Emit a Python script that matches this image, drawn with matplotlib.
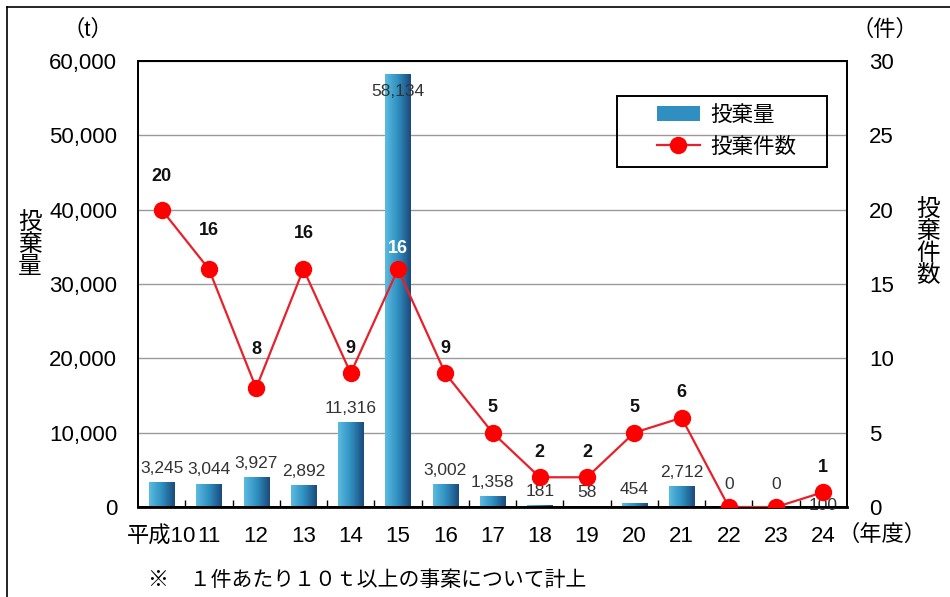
import numpy as np
import matplotlib.pyplot as plt
from matplotlib.colors import LinearSegmentedColormap
from matplotlib.lines import Line2D
from matplotlib.patches import Patch, Rectangle
from matplotlib.ticker import FuncFormatter, MultipleLocator, FixedLocator

plt.rcParams['font.family'] = ['Liberation Sans', 'Noto Sans CJK JP', 'DejaVu Sans']

years = ['平成10', '11', '12', '13', '14', '15', '16', '17', '18', '19',
         '20', '21', '22', '23', '24']
tonnage = [3245, 3044, 3927, 2892, 11316, 58134, 3002, 1358, 181, 58,
           454, 2712, 0, 0, 100]
cases = [20, 16, 8, 16, 9, 16, 9, 5, 2, 2, 5, 6, 0, 0, 1]

x = np.arange(len(years))
bar_w = 0.53

fig = plt.figure(figsize=(9.5, 5.97), dpi=100)
ax = fig.add_axes([138 / 950, 1 - 507 / 597, 709 / 950, 446 / 597])
ax2 = ax.twinx()

# bars with a light-to-dark horizontal gradient
cmap = LinearSegmentedColormap.from_list('bar', ['#5bbbe0', '#2f8fc0', '#1c4a7c'])
grad = np.linspace(0, 1, 64).reshape(1, -1)
for xi, v in zip(x, tonnage):
    if v > 0:
        ax.imshow(grad, cmap=cmap, aspect='auto', zorder=2,
                  extent=(xi - bar_w / 2, xi + bar_w / 2, 0, v))

ax.set_xlim(-0.5, len(years) - 0.5)
ax.set_ylim(0, 60000)
ax.yaxis.set_major_locator(MultipleLocator(10000))
ax.yaxis.set_major_formatter(FuncFormatter(lambda v, p: f'{int(v):,}'))
ax.grid(axis='y', color='#9a9a9a', lw=1, zorder=0)
ax.set_axisbelow(True)

ax.set_xticks(x)
ax.set_xticklabels(years)
ax.xaxis.set_minor_locator(FixedLocator(x[:-1] + 0.5))
ax.tick_params(axis='x', which='major', length=0, pad=14, labelsize=16)
ax.tick_params(axis='x', which='minor', direction='in', length=5, width=1)
ax.tick_params(axis='y', length=0, pad=15, labelsize=16)

# bar value labels
for xi, v in zip(x, tonnage):
    txt = f'{v:,}'
    if v > 50000:
        ax.annotate(txt, (xi, v), xytext=(0, -12), textcoords='offset points',
                    ha='center', va='center', fontsize=12.5, color='#333333', zorder=5)
    elif v == 100:
        ax.annotate(txt, (xi, 0), xytext=(0, 1), textcoords='offset points',
                    ha='center', va='center', fontsize=12.5, color='#333333', zorder=5)
    elif v == 0:
        ax.annotate(txt, (xi, 0), xytext=(0, 16), textcoords='offset points',
                    ha='center', va='center', fontsize=12.5, color='#333333', zorder=5)
    else:
        ax.annotate(txt, (xi, v), xytext=(0, 5), textcoords='offset points',
                    ha='center', va='bottom', fontsize=12.5, color='#333333', zorder=5)

# case count line
ax2.plot(x, cases, color='#e8202a', lw=1.6, marker='o', ms=11.5,
         mfc='#ff0000', mec='#ff0000', zorder=3)
ax2.set_ylim(0, 30)
ax2.yaxis.set_major_locator(MultipleLocator(5))
ax2.tick_params(axis='y', length=0, pad=16, labelsize=16)

lift = {0: 24, 1: 28, 2: 28, 3: 26, 5: 15}
for i, (xi, c) in enumerate(zip(x, cases)):
    if c == 0:
        continue
    ax2.annotate(str(c), (xi, c), xytext=(0, lift.get(i, 18)),
                 textcoords='offset points', ha='center', va='center',
                 fontsize=13, fontweight='bold',
                 color='white' if i == 5 else '#111111')

for a in (ax, ax2):
    for s in a.spines.values():
        s.set_color('black')
        s.set_linewidth(1.4)
ax.spines['bottom'].set_linewidth(2)

# legend with its own box
handles = [Patch(facecolor='#2f8fc0', edgecolor='none', label='投棄量'),
           Line2D([], [], color='#e8202a', lw=1.6, marker='o', ms=11.5,
                  mfc='#ff0000', mec='#ff0000', label='投棄件数')]
ax2.legend(handles=handles, loc='center', bbox_to_anchor=(0.83, 0.842),
           frameon=False, fontsize=15.5, handlelength=2.0, handletextpad=0.5,
           labelspacing=0.5, borderpad=0)
ax2.add_patch(Rectangle((0.6756, 0.762), 0.2962, 0.1595, transform=ax2.transAxes,
                        fill=False, edgecolor='black', lw=1.4, zorder=6))

# unit and axis captions
fig.text(88 / 950, 1 - 30 / 597, '（t）', ha='center', va='center', fontsize=16)
fig.text(885 / 950, 1 - 30 / 597, '（件）', ha='center', va='center', fontsize=16)
fig.text(30 / 950, 1 - 245 / 597, '投\n棄\n量', ha='center', va='center',
         fontsize=17, linespacing=1.0)
fig.text(928 / 950, 1 - 243 / 597, '投\n棄\n件\n数', ha='center', va='center',
         fontsize=17, linespacing=1.0)
fig.text(882 / 950, 1 - 535 / 597, '（年度）', ha='center', va='center', fontsize=16)
fig.text(148 / 950, 1 - 580 / 597, '※　１件あたり１０ｔ以上の事案について計上',
         ha='left', va='center', fontsize=15)

# outer frame
fig.add_artist(Line2D([7 / 950, 7 / 950], [0, 1 - 7 / 597], color='black', lw=1.2))
fig.add_artist(Line2D([7 / 950, 1], [1 - 7 / 597, 1 - 7 / 597], color='black', lw=1.2))

fig.savefig('out.png', dpi=100)
